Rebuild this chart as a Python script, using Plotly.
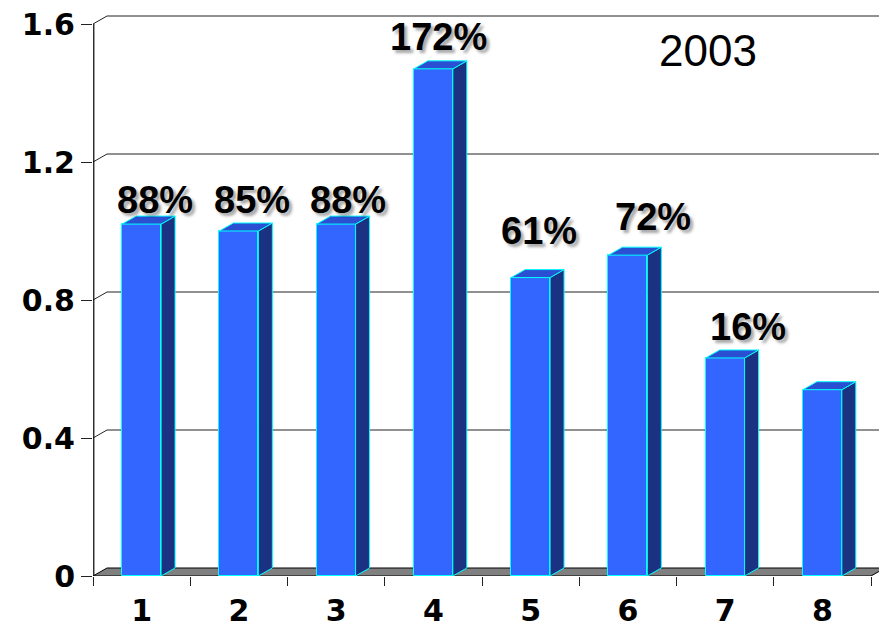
import plotly.graph_objects as go

# ---------------- data ----------------
categories = ["1", "2", "3", "4", "5", "6", "7", "8"]
values = [1.02, 1.00, 1.02, 1.47, 0.865, 0.93, 0.632, 0.54]
pct_labels = ["88%", "85%", "88%", "172%", "61%", "72%", "16%", ""]
y_tick_vals = [0, 0.4, 0.8, 1.2, 1.6]
y_tick_text = ["0", "0.4", "0.8", "1.2", "1.6"]
year_label = "2003"

# ---------------- geometry / style ----------------
W, H = 879, 625
ML, MB, MT = 93, 49, 10
PX_PER_X = 97.25
PX_PER_Y = 345.0
x_max = (W - ML) / PX_PER_X
y_max = (H - MB - MT) / PX_PER_Y
DX = 14 / PX_PER_X          # 3-D depth offset (x)
DY = 8 / PX_PER_Y           # 3-D depth offset (y)
BAR_W = 0.4
HALF = BAR_W / 2

# label placement (offset from category centre, y in value units)
label_dx = [0.137, 0.13, 0.117, 0.048, 0.081, 0.258, 0.235, 0.0]
label_y = [1.09, 1.09, 1.09, 1.562, 0.999, 1.042, 0.723, 0.0]

FRONT = "#3366FF"
SIDE = "#1B3282"
TOP = "#2A4FD2"
EDGE = "#00FFFF"
TICK_FONT = dict(family="DejaVu Sans", size=30, color="black", weight="bold")

centers = [i + 0.5 for i in range(len(categories))]

fig = go.Figure()

# front faces
fig.add_trace(go.Bar(
    x=centers, y=values, width=BAR_W,
    marker=dict(color=FRONT, line=dict(color=EDGE, width=1)),
    hoverinfo="skip", showlegend=False,
))

# side and top faces
for c, v in zip(centers, values):
    xr = c + HALF
    xl = c - HALF
    fig.add_trace(go.Scatter(
        x=[xr, xr + DX, xr + DX, xr, xr],
        y=[0, DY, v + DY, v, 0],
        mode="lines", fill="toself", fillcolor=SIDE,
        line=dict(color=EDGE, width=1), hoverinfo="skip", showlegend=False,
    ))
    fig.add_trace(go.Scatter(
        x=[xl, xr, xr + DX, xl + DX, xl],
        y=[v, v, v + DY, v + DY, v],
        mode="lines", fill="toself", fillcolor=TOP,
        line=dict(color=EDGE, width=1), hoverinfo="skip", showlegend=False,
    ))

# invisible trace for the tick-mark axis
fig.add_trace(go.Scatter(x=[0], y=[0], xaxis="x2", yaxis="y", mode="markers",
                         marker=dict(opacity=0), hoverinfo="skip", showlegend=False))

shapes = []
n = len(categories)
# floor
shapes.append(dict(
    type="path", xref="x", yref="y", layer="below",
    path=f"M 0,0 L {n},0 L {n + DX},{DY} L {DX},{DY} Z",
    fillcolor="#808080", line=dict(color="black", width=1),
))
# back-wall gridlines with the diagonal from the front axis
for v in y_tick_vals[1:]:
    shapes.append(dict(
        type="path", xref="x", yref="y", layer="below",
        path=f"M 0,{v} L {DX},{v + DY} L {x_max + 1},{v + DY}",
        line=dict(color="#222222", width=1),
    ))
# front vertical axis line
shapes.append(dict(
    type="line", xref="paper", yref="paper", layer="above",
    x0=0.001, x1=0.001, y0=0, y1=y_tick_vals[-1] / y_max,
    line=dict(color="black", width=1.2),
))

annotations = []
for c, txt, dx, ly in zip(centers, pct_labels, label_dx, label_y):
    if not txt:
        continue
    annotations.append(dict(
        x=c + dx, y=ly, xref="x", yref="y", text=txt, showarrow=False,
        xanchor="center", yanchor="middle",
        font=dict(family="Liberation Sans", size=38, color="black", weight="bold",
                  shadow="3px 3px 3px rgba(0,0,0,0.35)"),
    ))
annotations.append(dict(
    x=6.319, y=1.522, xref="x", yref="y", text=year_label, showarrow=False,
    xanchor="center", yanchor="middle",
    font=dict(family="Liberation Sans", size=44, color="black"),
))

fig.update_layout(
    width=W, height=H,
    margin=dict(l=ML, r=0, t=MT, b=MB, pad=0, autoexpand=False),
    paper_bgcolor="white", plot_bgcolor="white",
    showlegend=False, bargap=0,
    shapes=shapes, annotations=annotations,
    xaxis=dict(
        range=[0, x_max], tickvals=centers, ticktext=categories,
        ticks="outside", ticklen=8, tickcolor="rgba(0,0,0,0)",
        showgrid=False, zeroline=False, showline=False, automargin=False,
        tickfont=TICK_FONT, fixedrange=True,
    ),
    xaxis2=dict(
        overlaying="x", anchor="y", side="bottom",
        range=[0, x_max], tickvals=list(range(n + 1)),
        ticks="outside", ticklen=9, tickwidth=1, tickcolor="#222222",
        showticklabels=False, showgrid=False, zeroline=False, showline=False,
        automargin=False,
    ),
    yaxis=dict(
        range=[0, y_max], tickvals=y_tick_vals, ticktext=y_tick_text,
        ticks="outside", ticklen=11, tickwidth=1, tickcolor="#222222",
        showgrid=False, zeroline=False, showline=False, automargin=False,
        tickfont=TICK_FONT, fixedrange=True,
    ),
)

fig.write_html("out.html")
